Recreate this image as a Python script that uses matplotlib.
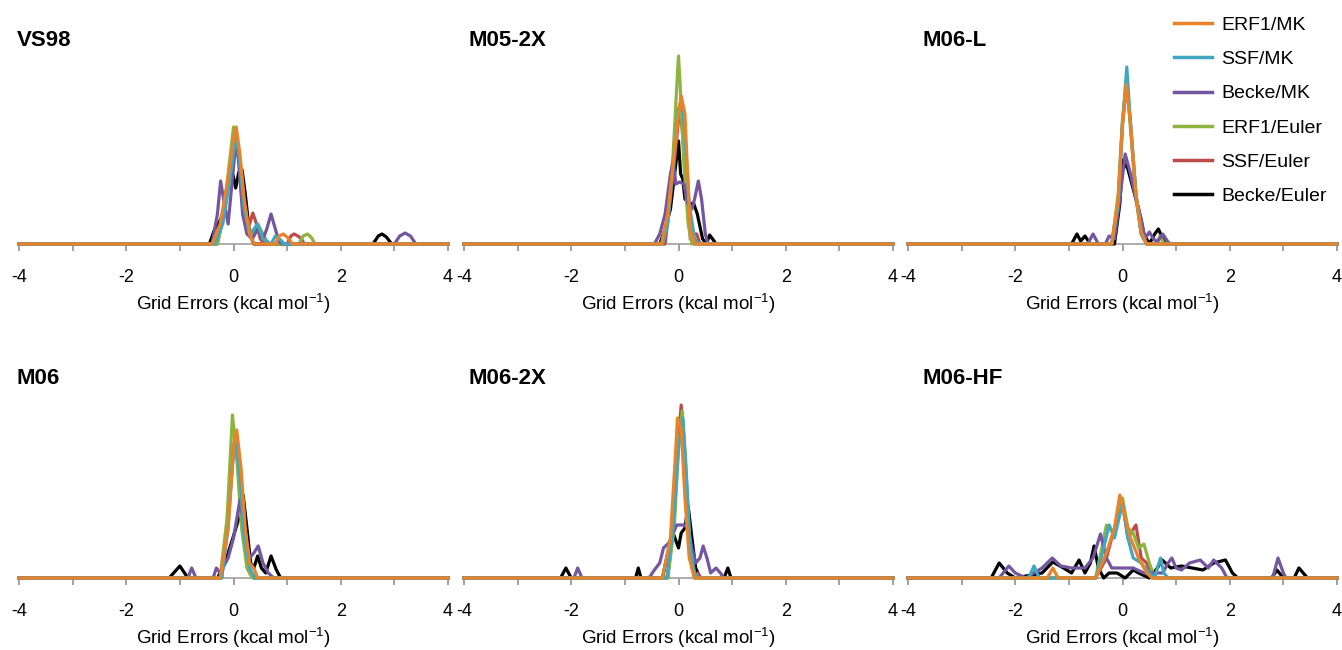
import matplotlib
matplotlib.use("Agg")
import matplotlib.pyplot as plt
from matplotlib.lines import Line2D

plt.rcParams['font.family'] = ['Liberation Sans', 'DejaVu Sans']
plt.rcParams['axes.unicode_minus'] = False
plt.rcParams['mathtext.default'] = 'regular'

# series names (legend order) and colours
SERIES = ["ERF1/MK", "SSF/MK", "Becke/MK", "ERF1/Euler", "SSF/Euler", "Becke/Euler"]
COLORS = ["#E8832A", "#3FA8C0", "#7456A0", "#8DB43F", "#BD4B4B", "#000000"]

PANEL_TITLES = ["VS98", "M05-2X", "M06-L", "M06", "M06-2X", "M06-HF"]
TICKS = [-4, -3, -2, -1, 0, 1, 2, 3, 4]
TICK_LABELS = ["-4", "", "-2", "", "0", "", "2", "", "4"]

# (grid error, distribution) points
# --- VS98
VS98_ERF1_MK = [(-4, 0), (-0.4, 0), (-0.25, 0.2), (-0.12, 0.6), (0, 1.05), (0.05, 1.17), (0.12, 0.9),
                (0.2, 0.45), (0.3, 0.1), (0.38, 0), (0.78, 0), (0.85, 0.08), (0.93, 0.1), (1.02, 0.06),
                (1.1, 0), (4, 0)]
VS98_SSF_MK = [(-4, 0), (-0.35, 0), (-0.2, 0.2), (-0.08, 0.6), (0.05, 1.1), (0.12, 0.8), (0.2, 0.35),
               (0.3, 0.1), (0.38, 0.15), (0.45, 0.2), (0.55, 0.05), (0.7, 0), (0.78, 0.08),
               (0.86, 0.05), (0.95, 0), (4, 0)]
VS98_BECKE_MK = [(-4, 0), (-0.4, 0), (-0.3, 0.3), (-0.24, 0.63), (-0.17, 0.4), (-0.1, 0.2), (-0.03, 0.6),
                 (0.05, 1.05), (0.1, 0.8), (0.17, 0.3), (0.25, 0.1), (0.35, 0.05), (0.45, 0.15),
                 (0.55, 0.05), (0.62, 0.15), (0.7, 0.3), (0.78, 0.15), (0.85, 0.02), (0.95, 0),
                 (3.0, 0), (3.1, 0.08), (3.2, 0.11), (3.3, 0.08), (3.4, 0), (4, 0)]
VS98_ERF1_EULER = [(-4, 0), (-0.3, 0), (-0.2, 0.25), (-0.1, 0.7), (0.0, 1.17), (0.07, 1.0), (0.15, 0.5),
                   (0.25, 0.15), (0.35, 0.1), (0.45, 0.2), (0.55, 0.1), (0.65, 0), (1.22, 0),
                   (1.3, 0.08), (1.38, 0.1), (1.46, 0.06), (1.52, 0), (4, 0)]
VS98_SSF_EULER = [(-4, 0), (-0.3, 0), (-0.18, 0.3), (-0.05, 0.8), (0.05, 1.12), (0.13, 0.7),
                  (0.22, 0.2), (0.3, 0.2), (0.36, 0.31), (0.43, 0.2), (0.5, 0.05), (0.58, 0),
                  (1.0, 0), (1.07, 0.08), (1.13, 0.1), (1.2, 0.08), (1.27, 0.05), (1.32, 0), (4, 0)]
VS98_BECKE_EULER = [(-4, 0), (-0.45, 0), (-0.35, 0.15), (-0.28, 0.2), (-0.2, 0.3), (-0.1, 0.6),
                    (-0.03, 0.74), (0.04, 0.56), (0.1, 0.72), (0.16, 0.74), (0.22, 0.5), (0.3, 0.1),
                    (0.38, 0), (2.6, 0), (2.7, 0.08), (2.77, 0.1), (2.85, 0.07), (2.95, 0), (4, 0)]

# --- M05-2X
M052X_ERF1_MK = [(-4, 0), (-0.32, 0), (-0.2, 0.3), (-0.1, 0.8), (0, 1.3), (0.05, 1.48), (0.12, 1.3),
                 (0.17, 0.7), (0.22, 0.15), (0.3, 0), (4, 0)]
M052X_SSF_MK = [(-4, 0), (-0.3, 0), (-0.2, 0.2), (-0.1, 0.8), (0, 1.35), (0.06, 1.44), (0.12, 1.1),
                (0.2, 0.4), (0.3, 0.05), (0.38, 0), (4, 0)]
M052X_BECKE_MK = [(-4, 0), (-0.45, 0), (-0.35, 0.1), (-0.25, 0.3), (-0.15, 0.7), (-0.1, 0.83),
                  (-0.05, 0.6), (0.02, 0.62), (0.1, 0.6), (0.18, 0.4), (0.25, 0.35), (0.3, 0.45),
                  (0.37, 0.63), (0.43, 0.45), (0.5, 0.1), (0.55, 0), (4, 0)]
M052X_ERF1_EULER = [(-4, 0), (-0.3, 0), (-0.2, 0.25), (-0.1, 0.9), (-0.03, 1.6), (0.0, 1.88),
                    (0.03, 1.6), (0.1, 0.8), (0.18, 0.2), (0.25, 0), (4, 0)]
M052X_SSF_EULER = [(-4, 0), (-0.25, 0), (-0.1, 0.7), (0.03, 1.4), (0.15, 0.6), (0.22, 0.05),
                   (0.28, 0.1), (0.34, 0.1), (0.4, 0), (4, 0)]
M052X_BECKE_EULER = [(-4, 0), (-0.35, 0), (-0.25, 0.15), (-0.15, 0.35), (-0.05, 0.8), (0.0, 1.03),
                     (0.04, 0.7), (0.08, 0.65), (0.12, 0.45), (0.2, 0.4), (0.28, 0.41), (0.35, 0.3),
                     (0.45, 0.05), (0.52, 0), (0.58, 0.09), (0.65, 0.04), (0.7, 0), (4, 0)]

# --- M06-L
M06L_ERF1_MK = [(-4, 0), (-0.2, 0), (-0.08, 0.45), (0.0, 1.2), (0.07, 1.6), (0.15, 1.2), (0.25, 0.5),
                (0.35, 0.12), (0.45, 0), (4, 0)]
M06L_SSF_MK = [(-4, 0), (-0.2, 0), (-0.08, 0.4), (0.0, 1.2), (0.08, 1.77), (0.15, 1.2), (0.25, 0.5),
               (0.35, 0.1), (0.45, 0), (4, 0)]
M06L_BECKE_MK = [(-4, 0), (-0.65, 0), (-0.55, 0.1), (-0.45, 0), (-0.32, 0), (-0.25, 0.08),
                 (-0.15, 0.05), (-0.05, 0.45), (0.05, 0.9), (0.15, 0.7), (0.25, 0.45), (0.35, 0.25),
                 (0.42, 0.05), (0.5, 0.12), (0.58, 0.05), (0.65, 0.02), (0.75, 0.1), (0.85, 0.02),
                 (0.9, 0), (4, 0)]
M06L_ERF1_EULER = [(-4, 0), (-0.2, 0), (-0.08, 0.5), (0.0, 1.25), (0.08, 1.65), (0.15, 1.15),
                   (0.25, 0.45), (0.35, 0.1), (0.45, 0), (0.62, 0), (0.7, 0.08), (0.78, 0), (4, 0)]
M06L_SSF_EULER = [(-4, 0), (-0.2, 0), (-0.08, 0.45), (0.0, 1.2), (0.08, 1.6), (0.15, 1.2), (0.25, 0.5),
                  (0.35, 0.1), (0.45, 0), (4, 0)]
M06L_BECKE_EULER = [(-4, 0), (-0.95, 0), (-0.85, 0.1), (-0.78, 0.03), (-0.7, 0.08), (-0.6, 0),
                    (-0.15, 0), (-0.05, 0.4), (0.0, 0.84), (0.1, 0.75), (0.2, 0.55), (0.3, 0.35),
                    (0.4, 0.1), (0.5, 0), (0.6, 0.1), (0.67, 0.15), (0.75, 0.05), (0.8, 0), (4, 0)]

# --- M06
M06_ERF1_MK = [(-4, 0), (-0.25, 0), (-0.1, 0.5), (0.0, 1.3), (0.06, 1.48), (0.14, 1.1), (0.22, 0.5),
               (0.3, 0.15), (0.38, 0.1), (0.45, 0), (4, 0)]
M06_SSF_MK = [(-4, 0), (-0.22, 0), (-0.1, 0.5), (0.0, 1.3), (0.04, 1.4), (0.12, 1.0), (0.2, 0.4),
              (0.3, 0.1), (0.4, 0), (4, 0)]
M06_BECKE_MK = [(-4, 0), (-0.85, 0), (-0.78, 0.1), (-0.7, 0), (-0.38, 0), (-0.32, 0.1), (-0.25, 0.05),
                (-0.1, 0.2), (0.0, 0.4), (0.12, 0.78), (0.2, 0.5), (0.3, 0.2), (0.38, 0.25),
                (0.46, 0.32), (0.55, 0.15), (0.65, 0.05), (0.75, 0), (4, 0)]
M06_ERF1_EULER = [(-4, 0), (-0.25, 0), (-0.12, 0.6), (-0.02, 1.63), (0.06, 1.2), (0.15, 0.5),
                  (0.25, 0.1), (0.35, 0), (4, 0)]
M06_SSF_EULER = [(-4, 0), (-0.22, 0), (-0.1, 0.6), (0.03, 1.45), (0.1, 1.0), (0.2, 0.35), (0.3, 0.05),
                 (0.38, 0), (4, 0)]
M06_BECKE_EULER = [(-4, 0), (-1.2, 0), (-1.0, 0.12), (-0.85, 0), (-0.3, 0), (-0.2, 0.1), (-0.1, 0.25),
                   (0.0, 0.42), (0.1, 0.6), (0.18, 0.83), (0.25, 0.5), (0.32, 0.15), (0.38, 0.1),
                   (0.45, 0.22), (0.52, 0.1), (0.6, 0.05), (0.7, 0.22), (0.8, 0.08), (0.88, 0), (4, 0)]

# --- M06-2X
M062X_ERF1_MK = [(-4, 0), (-0.3, 0), (-0.15, 0.4), (-0.05, 1.3), (-0.02, 1.6), (0.05, 1.5),
                 (0.12, 0.8), (0.2, 0.2), (0.3, 0), (4, 0)]
M062X_SSF_MK = [(-4, 0), (-0.22, 0), (-0.1, 0.5), (0.0, 1.3), (0.08, 1.6), (0.15, 1.0), (0.22, 0.3),
                (0.3, 0.05), (0.38, 0), (4, 0)]
M062X_BECKE_MK = [(-4, 0), (-1.95, 0), (-1.88, 0.1), (-1.8, 0), (-0.55, 0), (-0.45, 0.08),
                  (-0.35, 0.15), (-0.28, 0.3), (-0.18, 0.35), (-0.1, 0.45), (-0.03, 0.53), (0.1, 0.53),
                  (0.18, 0.5), (0.25, 0.3), (0.32, 0.15), (0.4, 0.2), (0.46, 0.32), (0.53, 0.2),
                  (0.6, 0.05), (0.7, 0.1), (0.78, 0.05), (0.85, 0), (4, 0)]
M062X_ERF1_EULER = [(-4, 0), (-0.2, 0), (-0.08, 0.5), (0.0, 1.3), (0.07, 1.67), (0.13, 1.2),
                    (0.2, 0.4), (0.3, 0), (4, 0)]
M062X_SSF_EULER = [(-4, 0), (-0.2, 0), (-0.08, 0.6), (0.0, 1.4), (0.05, 1.73), (0.1, 1.4), (0.18, 0.5),
                   (0.25, 0.1), (0.3, 0), (0.36, 0.05), (0.42, 0), (4, 0)]
M062X_BECKE_EULER = [(-4, 0), (-2.2, 0), (-2.1, 0.1), (-2.0, 0), (-0.8, 0), (-0.75, 0.1), (-0.7, 0),
                     (-0.3, 0), (-0.2, 0.25), (-0.1, 0.45), (0.0, 0.3), (0.05, 0.45), (0.12, 0.5),
                     (0.18, 0.72), (0.25, 0.4), (0.32, 0.1), (0.4, 0), (0.85, 0), (0.92, 0.1),
                     (0.98, 0), (4, 0)]

# --- M06-HF
M06HF_ERF1_MK = [(-4, 0), (-1.4, 0), (-1.3, 0.1), (-1.2, 0), (-0.5, 0), (-0.3, 0.25), (-0.15, 0.5),
                 (-0.05, 0.83), (0.05, 0.6), (0.15, 0.4), (0.3, 0.2), (0.45, 0.05), (0.55, 0), (4, 0)]
M06HF_SSF_MK = [(-4, 0), (-1.75, 0), (-1.65, 0.12), (-1.55, 0), (-0.5, 0), (-0.35, 0.3), (-0.25, 0.53),
                (-0.15, 0.4), (0.0, 0.75), (0.1, 0.4), (0.2, 0.2), (0.35, 0.15), (0.5, 0.05),
                (0.6, 0), (0.65, 0.1), (0.71, 0.2), (0.77, 0.05), (0.85, 0), (4, 0)]
M06HF_BECKE_MK = [(-4, 0), (-2.3, 0), (-2.12, 0.12), (-2.0, 0.05), (-1.8, 0), (-1.5, 0.1),
                  (-1.31, 0.2), (-1.15, 0.12), (-0.95, 0.1), (-0.7, 0.1), (-0.55, 0.2), (-0.41, 0.44),
                  (-0.3, 0.2), (-0.2, 0.1), (0.0, 0.1), (0.2, 0.1), (0.4, 0.05), (0.6, 0.05),
                  (0.75, 0.05), (0.85, 0.15), (0.92, 0.2), (1.0, 0.1), (1.1, 0.08), (1.25, 0.15),
                  (1.45, 0.18), (1.6, 0.1), (1.7, 0.18), (1.85, 0.1), (1.95, 0), (2.8, 0),
                  (2.9, 0.2), (3.0, 0.05), (3.05, 0), (4, 0)]
M06HF_ERF1_EULER = [(-4, 0), (-0.5, 0), (-0.3, 0.53), (-0.15, 0.45), (0.0, 0.8), (0.1, 0.5),
                    (0.2, 0.45), (0.3, 0.3), (0.4, 0.34), (0.5, 0.15), (0.6, 0), (4, 0)]
M06HF_SSF_EULER = [(-4, 0), (-0.5, 0), (-0.3, 0.2), (-0.15, 0.5), (0.0, 0.75), (0.1, 0.4),
                   (0.25, 0.53), (0.35, 0.2), (0.45, 0.15), (0.55, 0), (4, 0)]
M06HF_BECKE_EULER = [(-4, 0), (-2.45, 0), (-2.3, 0.15), (-2.15, 0.05), (-2.0, 0), (-1.5, 0.05),
                     (-1.3, 0.16), (-1.1, 0.1), (-0.95, 0.05), (-0.81, 0.18), (-0.7, 0.05),
                     (-0.6, 0.15), (-0.53, 0.32), (-0.45, 0.1), (-0.35, 0), (-0.25, 0.05),
                     (-0.1, 0.05), (0.05, 0), (0.2, 0.08), (0.3, 0.05), (0.5, 0), (0.65, 0.1),
                     (0.74, 0.18), (0.9, 0.1), (1.1, 0.12), (1.3, 0.1), (1.5, 0.08), (1.7, 0.15),
                     (1.92, 0.18), (2.05, 0.05), (2.15, 0), (2.78, 0), (2.88, 0.08), (3.0, 0),
                     (3.2, 0), (3.29, 0.1), (3.45, 0), (4, 0)]

PANEL_DATA = [
    [VS98_ERF1_MK, VS98_SSF_MK, VS98_BECKE_MK, VS98_ERF1_EULER, VS98_SSF_EULER, VS98_BECKE_EULER],
    [M052X_ERF1_MK, M052X_SSF_MK, M052X_BECKE_MK, M052X_ERF1_EULER, M052X_SSF_EULER, M052X_BECKE_EULER],
    [M06L_ERF1_MK, M06L_SSF_MK, M06L_BECKE_MK, M06L_ERF1_EULER, M06L_SSF_EULER, M06L_BECKE_EULER],
    [M06_ERF1_MK, M06_SSF_MK, M06_BECKE_MK, M06_ERF1_EULER, M06_SSF_EULER, M06_BECKE_EULER],
    [M062X_ERF1_MK, M062X_SSF_MK, M062X_BECKE_MK, M062X_ERF1_EULER, M062X_SSF_EULER, M062X_BECKE_EULER],
    [M06HF_ERF1_MK, M06HF_SSF_MK, M06HF_BECKE_MK, M06HF_ERF1_EULER, M06HF_SSF_EULER, M06HF_BECKE_EULER],
]

W, H = 1342, 650
fig = plt.figure(figsize=(W / 100, H / 100), dpi=100)

# panel geometry in pixels (left edge, baseline)
lefts = [19, 464, 908]
baselines = [244, 578]
ax_w, ax_h = 429, 204
title_x = [17, 468, 923]
title_y = [40, 379]

for i, (title, curves) in enumerate(zip(PANEL_TITLES, PANEL_DATA)):
    r, c = divmod(i, 3)
    ax = fig.add_axes([lefts[c] / W, (H - baselines[r]) / H, ax_w / W, ax_h / H])
    # draw in reverse legend order so ERF1/MK ends up on top
    for k in reversed(range(len(SERIES))):
        xs = [p[0] for p in curves[k]]
        ys = [p[1] for p in curves[k]]
        ax.plot(xs, ys, color=COLORS[k], lw=2.3, clip_on=False, zorder=3,
                solid_joinstyle='round')
    ax.set_xlim(-4, 4)
    ax.set_ylim(0, ax_h / 100)
    ax.set_xticks(TICKS)
    ax.set_xticklabels(TICK_LABELS)
    ax.set_yticks([])
    for s in ['left', 'right', 'top']:
        ax.spines[s].set_visible(False)
    ax.spines['bottom'].set_color('#A0A0A0')
    ax.spines['bottom'].set_linewidth(1.2)
    ax.tick_params(axis='x', direction='out', length=5, width=1.2, color='#909090',
                   pad=13, labelsize=13)
    ax.set_xlabel(r'Grid Errors (kcal mol$^{\mathregular{-1}}$)', fontsize=13.5, labelpad=4)
    ax.patch.set_visible(False)
    fig.text(title_x[c] / W, 1 - title_y[r] / H, title, fontsize=16, fontweight='bold',
             ha='left', va='center')

handles = [Line2D([], [], color=col, lw=2.5) for col in COLORS]
fig.legend(handles, SERIES, loc='upper left', bbox_to_anchor=(1156 / W, 1 + 1 / H),
           frameon=False, fontsize=14, handlelength=2.0, handletextpad=0.45,
           labelspacing=0.85)

fig.savefig("out.png", dpi=100)
